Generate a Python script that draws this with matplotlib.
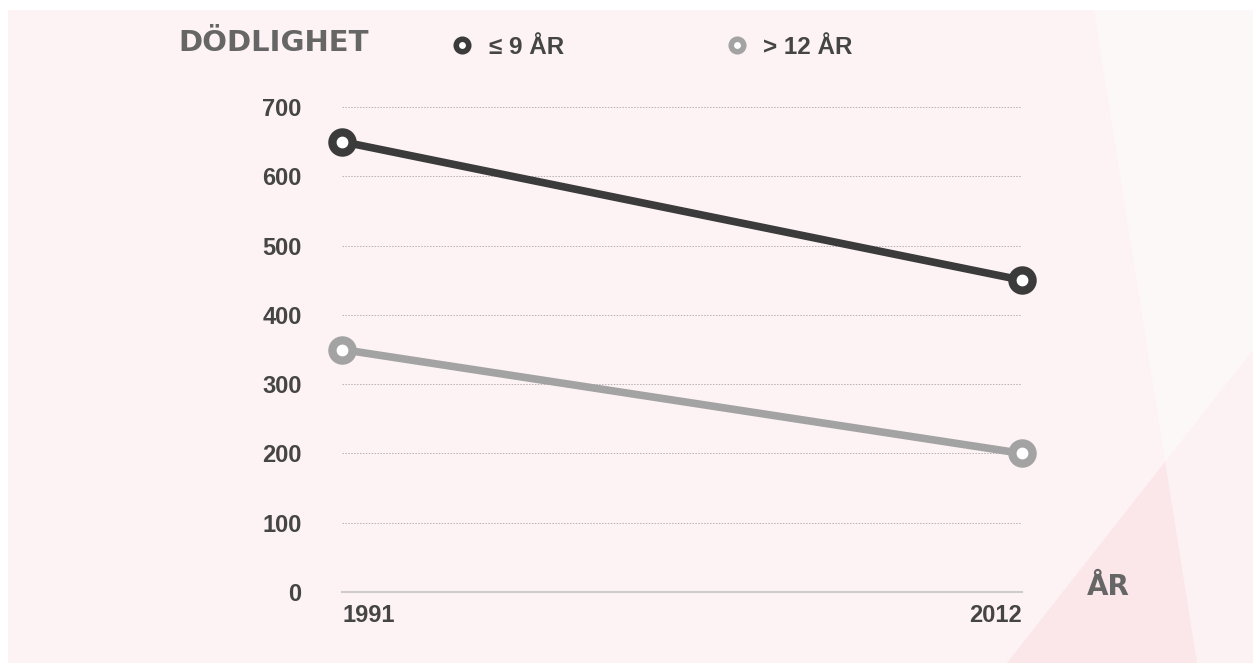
import matplotlib.pyplot as plt
from matplotlib.patches import Polygon, Rectangle
from matplotlib.lines import Line2D

# data
years = [1991, 2012]
low_edu = [650, 450]      # <= 9 år
high_edu = [350, 200]     # > 12 år
yticks = [0, 100, 200, 300, 400, 500, 600, 700]
series_labels = ['≤ 9 ÅR', '> 12 ÅR']

W, H = 1253, 663
dark = '#3b3b3b'
grey = '#a3a3a3'
txt = '#454545'
plt.rcParams['font.family'] = ['Liberation Sans', 'DejaVu Sans']


def fx(px):
    return px / W


def fy(py):
    return 1 - py / H


fig = plt.figure(figsize=(W / 100, H / 100), dpi=100, facecolor='white')

# background shapes
fig.patches.append(Rectangle((fx(8), 0), 1 - fx(8), fy(10), transform=fig.transFigure,
                             facecolor='#fdf3f4', edgecolor='none', zorder=-3))
fig.patches.append(Polygon([(fx(1094), fy(10)), (1, fy(10)), (1, 0), (fx(1197), 0)],
                           transform=fig.transFigure, facecolor='#fdf8f8', edgecolor='none', zorder=-2))
fig.patches.append(Polygon([(fx(1007), 0), (1, fy(350)), (1, 0)],
                           transform=fig.transFigure, facecolor='#f8c8d2', alpha=0.13,
                           edgecolor='none', zorder=-1))
fig.patches.append(Polygon([(fx(1007), 0), (fx(1165), fy(462)), (fx(1197), 0)],
                           transform=fig.transFigure, facecolor='#f9d0d9', alpha=0.22,
                           edgecolor='none', zorder=-1))

ax = fig.add_axes([fx(342), fy(592), fx(1022) - fx(342), fy(107) - fy(592)])
ax.set_facecolor('none')
ax.set_zorder(2)

ax.plot(years, low_edu, color=dark, lw=5.5, marker='o', ms=14.5, mew=6,
        mfc='white', mec=dark, clip_on=False, zorder=4)
ax.plot(years, high_edu, color=grey, lw=5.5, marker='o', ms=14.5, mew=6,
        mfc='white', mec=grey, clip_on=False, zorder=3)

ax.set_xlim(years[0], years[-1])
ax.set_ylim(0, 700)
ax.set_yticks(yticks)
ax.set_yticklabels([str(v) for v in yticks], fontsize=17, fontweight='bold', color=txt)
ax.set_xticks(years)
ax.set_xticklabels([str(y) for y in years], fontsize=17, fontweight='bold', color=txt)
xl = ax.get_xticklabels()
xl[0].set_ha('left')
xl[-1].set_ha('right')
ax.tick_params(axis='y', length=0, pad=29)
ax.tick_params(axis='x', length=0, pad=9)

ax.grid(axis='y', linestyle=(0, (1.5, 1.5)), color='#b5b0b1', lw=0.7)
ax.grid(axis='x', visible=False)
for s in ['top', 'right', 'left']:
    ax.spines[s].set_visible(False)
ax.spines['bottom'].set_color('#cfcbcc')
ax.spines['bottom'].set_linewidth(1.5)

# title and axis label
fig.text(fx(178), fy(51), 'DÖDLIGHET', fontsize=21, fontweight='heavy', color='#666666',
         family=['DejaVu Sans'], va='baseline', ha='left')
fig.text(fx(1087), fy(595), 'ÅR', fontsize=20, fontweight='heavy', color='#666666',
         family=['DejaVu Sans'], va='baseline', ha='left')

# legend
handles = [Line2D([], [], color=dark, ls='none', marker='o', ms=9, mew=4, mfc='white', mec=dark),
           Line2D([], [], color=grey, ls='none', marker='o', ms=9, mew=4, mfc='white', mec=grey)]
leg = fig.legend(handles, series_labels, ncol=2, loc='center left',
                 bbox_to_anchor=(fx(450), fy(47)), frameon=False,
                 prop={'size': 17.5, 'weight': 'bold'}, handlelength=1.0,
                 handletextpad=0.6, columnspacing=6.6, borderaxespad=0, borderpad=0)
for t in leg.get_texts():
    t.set_color(txt)

fig.savefig('out.png', dpi=100, facecolor=fig.get_facecolor())
